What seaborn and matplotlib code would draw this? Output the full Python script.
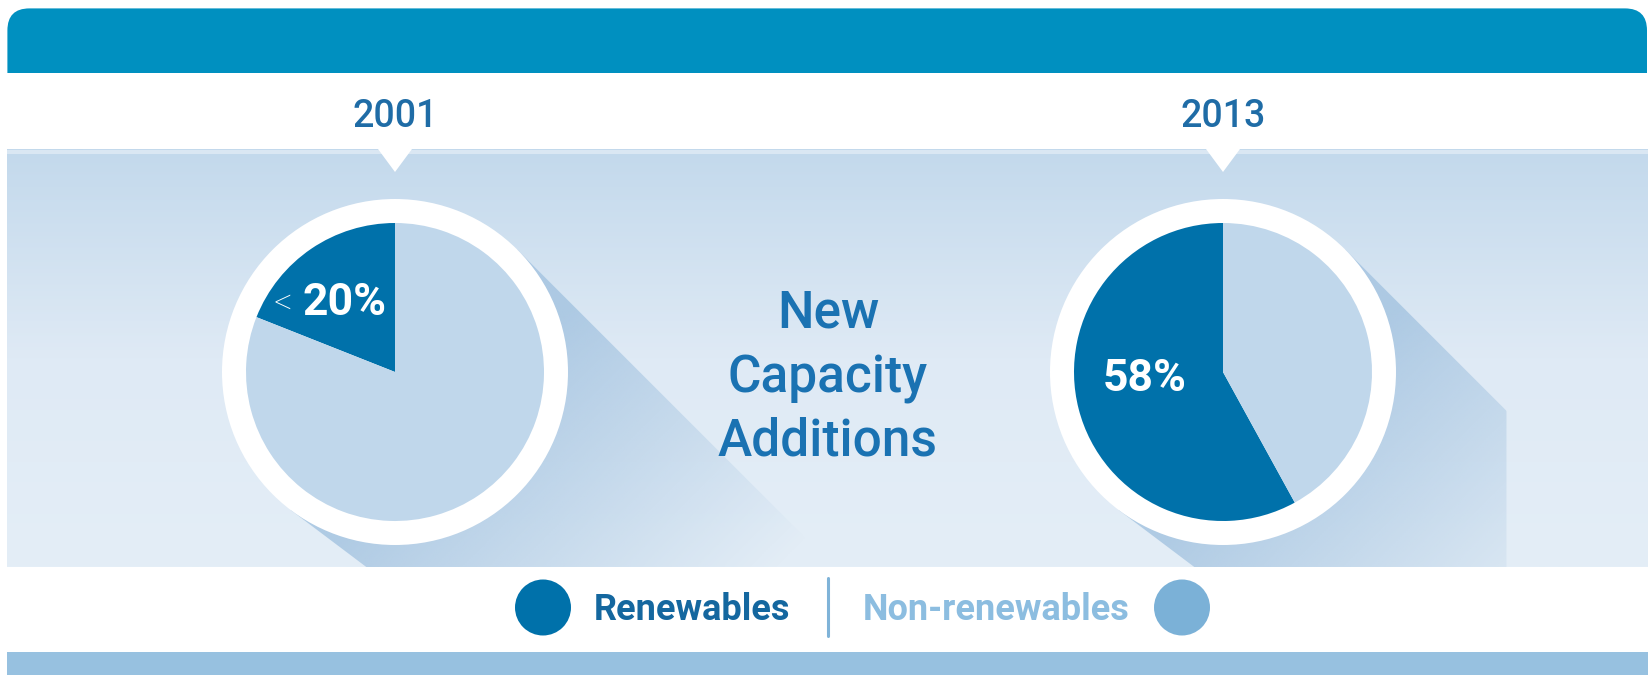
import numpy as np
import matplotlib.pyplot as plt
import seaborn as sns
from matplotlib.patches import Circle, Rectangle, Polygon, FancyBboxPatch
from matplotlib.colors import LinearSegmentedColormap, to_rgb

sns.set_theme(style="white")
plt.rcParams['font.family'] = ['Roboto', 'DejaVu Sans']

# data
years = ["2001", "2013"]
renewable_share = [19, 58]
share_labels = ["20%", "58%"]
share_prefix = ["<", ""]
categories = ["Renewables", "Non-renewables"]
title_lines = ["New", "Capacity", "Additions"]

dark, light = "#0071AA", "#C0D7EB"
txt_blue = "#1A72B2"

W, H = 1648, 675
fig = plt.figure(figsize=(W / 100, H / 100), dpi=100)
ax = fig.add_axes([0, 0, 1, 1])

# header bar
ax.add_patch(FancyBboxPatch((7.4, 560), W - 8.4, 106.6, boxstyle="round,pad=0,rounding_size=22",
                            fc="#0090C0", ec="none", zorder=1))
ax.add_patch(Rectangle((0, 525), W, 76.6, fc="white", ec="none", zorder=2))

# gradient band
band = (7.4, W, 107.5, 525)
cmap_band = LinearSegmentedColormap.from_list("band", ["#E4EEF7", "#DFEAF5", "#C3D9EC"])
grad = np.linspace(0, 1, 200).reshape(-1, 1)
ax.imshow(grad, extent=band, origin="lower", cmap=cmap_band, aspect="auto", zorder=3)
ax.add_patch(Rectangle((7.4, 521), W, 4, fc="#DAE7F3", ec="none", zorder=3))

# long shadows behind pies
centers = [(395, 303), (1223, 303)]
R_ring, R_pie = 173, 149
xs = np.linspace(band[0], band[1], 800)
ys = np.linspace(band[2], band[3], 220)
XX, YY = np.meshgrid(xs, ys)
shade_rgb = to_rgb("#A6C5E1")
d = np.array([1, -1]) / np.sqrt(2)
n = np.array([1, 1]) / np.sqrt(2)
a2 = np.deg2rad(-37)
d2 = np.array([np.cos(a2), np.sin(a2)])
n2 = np.array([np.sin(a2), -np.cos(a2)])
for i, (cx, cy) in enumerate(centers):
    t = ((XX - cx) - (YY - cy)) / np.sqrt(2)
    alpha = np.clip(0.85 * (1 - (t - 80) / 330), 0, 0.85)
    if i == 1:
        alpha[XX > 1508] = 0
    img = np.zeros(XX.shape + (4,))
    img[..., :3] = shade_rgb
    img[..., 3] = alpha
    c = np.array([cx, cy])
    p_up, p_lo = c + R_ring * n, c + R_ring * n2
    poly = Polygon([p_up, p_up + 900 * d, p_lo + 900 * d2, p_lo],
                   closed=True, transform=ax.transData)
    im = ax.imshow(img, extent=band, origin="lower", aspect="auto", zorder=4)
    im.set_clip_path(poly)

# notches under year labels
for cx, _ in centers:
    ax.add_patch(Polygon([(cx - 17, 526), (cx + 17, 526), (cx, 503)], closed=True,
                         fc="white", ec="none", zorder=5))

# pies
for (cx, cy), share, year in zip(centers, renewable_share, years):
    ax.add_patch(Circle((cx, cy), R_ring, fc="white", ec="none", zorder=6))
    wedges, _ = ax.pie([share, 100 - share], colors=[dark, light], startangle=90,
                       counterclock=True, center=(cx, cy), radius=R_pie, frame=True,
                       wedgeprops=dict(linewidth=0))
    for w in wedges:
        w.set_zorder(7)
    ax.text(cx, 548, year, ha="center", va="baseline", fontsize=27, color="#1F6CA6",
            fontweight="medium", zorder=8)

ax.text(283, 371, share_prefix[0], ha="center", va="center", fontsize=26, color="white",
        fontweight="light", zorder=8)
ax.text(345, 372, share_labels[0], ha="center", va="center", fontsize=32, color="white",
        fontweight="bold", zorder=8)
ax.text(1145, 296, share_labels[1], ha="center", va="center", fontsize=32, color="white",
        fontweight="bold", zorder=8)

# centre title
for line, yb in zip(title_lines, [347, 282, 220]):
    ax.text(828, yb, line, ha="center", va="baseline", fontsize=37, color=txt_blue,
            fontweight="medium", zorder=8)

# bottom bar
ax.add_patch(Rectangle((7.4, 0), W - 7.4, 23.4, fc="#97C1E0", ec="none", zorder=2))

# legend
ax.add_patch(Circle((543, 67.5), 28, fc=dark, ec="none", zorder=8))
ax.add_patch(Circle((1182, 67.5), 28, fc="#7BB1D7", ec="none", zorder=8))
ax.text(594, 55, categories[0], ha="left", va="baseline", fontsize=26, fontweight="bold",
        color="#14679F", zorder=8)
ax.text(1130, 55, categories[1], ha="right", va="baseline", fontsize=26, fontweight="bold",
        color="#8CBDE0", zorder=8)
ax.plot([828, 828], [39, 97], color="#7FB3D8", lw=2.2, zorder=8)

ax.set_aspect("auto")
ax.set_xlim(0, W)
ax.set_ylim(0, H)
ax.axis("off")

fig.savefig("out.png", dpi=100, facecolor="white")
